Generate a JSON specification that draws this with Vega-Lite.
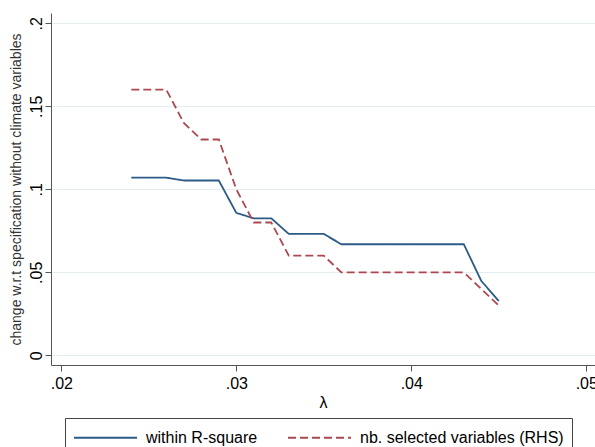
{
  "$schema": "https://vega.github.io/schema/vega-lite/v6.json",
  "width": 544,
  "height": 352,
  "autosize": {"type": "none"},
  "padding": {"left": 51, "top": 13, "right": 0, "bottom": 82},
  "background": "white",
  "config": {
    "view": {"stroke": null},
    "font": "Liberation Sans"
  },
  "data": {
    "values": [
      {"lambda": 0.024, "series": "within R-square", "value": 0.107},
      {"lambda": 0.025, "series": "within R-square", "value": 0.107},
      {"lambda": 0.026, "series": "within R-square", "value": 0.107},
      {"lambda": 0.027, "series": "within R-square", "value": 0.1053},
      {"lambda": 0.028, "series": "within R-square", "value": 0.1053},
      {"lambda": 0.029, "series": "within R-square", "value": 0.1053},
      {"lambda": 0.030, "series": "within R-square", "value": 0.0858},
      {"lambda": 0.031, "series": "within R-square", "value": 0.0825},
      {"lambda": 0.032, "series": "within R-square", "value": 0.0825},
      {"lambda": 0.033, "series": "within R-square", "value": 0.0731},
      {"lambda": 0.034, "series": "within R-square", "value": 0.0731},
      {"lambda": 0.035, "series": "within R-square", "value": 0.0731},
      {"lambda": 0.036, "series": "within R-square", "value": 0.0669},
      {"lambda": 0.037, "series": "within R-square", "value": 0.0669},
      {"lambda": 0.038, "series": "within R-square", "value": 0.0669},
      {"lambda": 0.039, "series": "within R-square", "value": 0.0669},
      {"lambda": 0.040, "series": "within R-square", "value": 0.0669},
      {"lambda": 0.041, "series": "within R-square", "value": 0.0669},
      {"lambda": 0.042, "series": "within R-square", "value": 0.0669},
      {"lambda": 0.043, "series": "within R-square", "value": 0.0669},
      {"lambda": 0.044, "series": "within R-square", "value": 0.0448},
      {"lambda": 0.045, "series": "within R-square", "value": 0.0327},
      {"lambda": 0.024, "series": "nb. selected variables (RHS)", "value": 0.16},
      {"lambda": 0.025, "series": "nb. selected variables (RHS)", "value": 0.16},
      {"lambda": 0.026, "series": "nb. selected variables (RHS)", "value": 0.16},
      {"lambda": 0.027, "series": "nb. selected variables (RHS)", "value": 0.14},
      {"lambda": 0.028, "series": "nb. selected variables (RHS)", "value": 0.13},
      {"lambda": 0.029, "series": "nb. selected variables (RHS)", "value": 0.13},
      {"lambda": 0.030, "series": "nb. selected variables (RHS)", "value": 0.10},
      {"lambda": 0.031, "series": "nb. selected variables (RHS)", "value": 0.08},
      {"lambda": 0.032, "series": "nb. selected variables (RHS)", "value": 0.08},
      {"lambda": 0.033, "series": "nb. selected variables (RHS)", "value": 0.06},
      {"lambda": 0.034, "series": "nb. selected variables (RHS)", "value": 0.06},
      {"lambda": 0.035, "series": "nb. selected variables (RHS)", "value": 0.06},
      {"lambda": 0.036, "series": "nb. selected variables (RHS)", "value": 0.05},
      {"lambda": 0.037, "series": "nb. selected variables (RHS)", "value": 0.05},
      {"lambda": 0.038, "series": "nb. selected variables (RHS)", "value": 0.05},
      {"lambda": 0.039, "series": "nb. selected variables (RHS)", "value": 0.05},
      {"lambda": 0.040, "series": "nb. selected variables (RHS)", "value": 0.05},
      {"lambda": 0.041, "series": "nb. selected variables (RHS)", "value": 0.05},
      {"lambda": 0.042, "series": "nb. selected variables (RHS)", "value": 0.05},
      {"lambda": 0.043, "series": "nb. selected variables (RHS)", "value": 0.05},
      {"lambda": 0.044, "series": "nb. selected variables (RHS)", "value": 0.04},
      {"lambda": 0.045, "series": "nb. selected variables (RHS)", "value": 0.03}
    ]
  },
  "mark": {"type": "line", "strokeWidth": 1.8, "clip": true},
  "encoding": {
    "x": {
      "field": "lambda",
      "type": "quantitative",
      "scale": {"domain": [0.019411, 0.050497], "nice": false, "zero": false},
      "axis": {
        "values": [0.02, 0.03, 0.04, 0.05],
        "labelExpr": "replace(format(datum.value, '.2f'), '0.', '.')",
        "title": "λ",
        "titleFontSize": 16,
        "titleFontWeight": "normal",
        "titleColor": "#000000",
        "titlePadding": 3,
        "grid": false,
        "domainColor": "#555555",
        "domainWidth": 1,
        "tickColor": "#555555",
        "tickSize": 6,
        "labelFontSize": 16,
        "labelColor": "#000000",
        "labelPadding": 4,
        "labelFlush": false,
        "labelOverlap": false
      }
    },
    "y": {
      "field": "value",
      "type": "quantitative",
      "scale": {"domain": [-0.00584, 0.2062], "nice": false, "zero": false},
      "axis": {
        "values": [0, 0.05, 0.1, 0.15, 0.2],
        "labelExpr": "replace(format(datum.value, '~g'), '0.', '.')",
        "title": "change w.r.t specification without climate variables",
        "titleFontSize": 14,
        "titleFontWeight": "normal",
        "titleColor": "#333333",
        "titlePadding": 5,
        "grid": true,
        "gridColor": "#e4eef1",
        "gridWidth": 1,
        "domainColor": "#555555",
        "domainWidth": 1,
        "tickColor": "#555555",
        "tickSize": 6,
        "labelAngle": -90,
        "labelAlign": "center",
        "labelBaseline": "bottom",
        "labelFontSize": 16,
        "labelColor": "#000000",
        "labelPadding": 1,
        "labelFlush": false,
        "labelOverlap": false
      }
    },
    "color": {
      "field": "series",
      "type": "nominal",
      "scale": {
        "domain": ["within R-square", "nb. selected variables (RHS)"],
        "range": ["#2c5b87", "#ad4850"]
      },
      "legend": {
        "title": null,
        "orient": "none",
        "legendX": 14,
        "legendY": 405,
        "direction": "horizontal",
        "columns": 2,
        "strokeColor": "#444444",
        "padding": 8,
        "symbolType": "M-1,0H5",
        "symbolSize": 441,
        "symbolStrokeWidth": 1.8,
        "labelFontSize": 16,
        "labelColor": "#000000",
        "labelOffset": 50,
        "labelLimit": 0,
        "columnPadding": 26
      }
    },
    "strokeDash": {
      "field": "series",
      "type": "nominal",
      "scale": {
        "domain": ["within R-square", "nb. selected variables (RHS)"],
        "range": [[1, 0], [8, 4]]
      },
      "legend": {
        "title": null,
        "orient": "none",
        "legendX": 14,
        "legendY": 405,
        "direction": "horizontal",
        "columns": 2,
        "strokeColor": "#444444",
        "padding": 8,
        "symbolType": "M-1,0H5",
        "symbolSize": 441,
        "symbolStrokeWidth": 1.8,
        "labelFontSize": 16,
        "labelColor": "#000000",
        "labelOffset": 50,
        "labelLimit": 0,
        "columnPadding": 26
      }
    }
  }
}
